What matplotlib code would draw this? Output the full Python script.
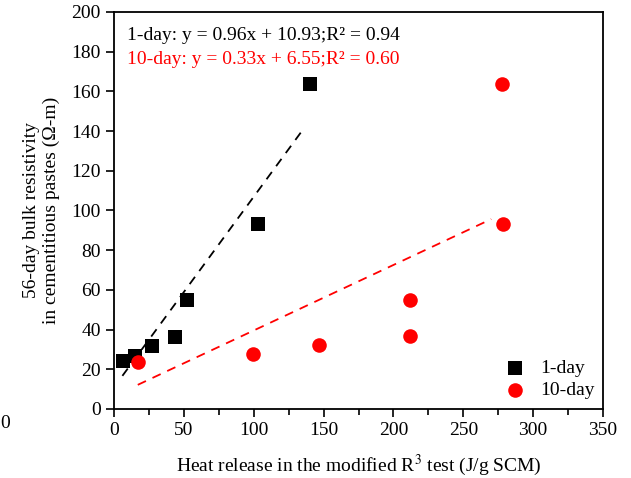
import matplotlib
matplotlib.use("Agg")
import matplotlib.pyplot as plt
import numpy as np
from matplotlib.ticker import MultipleLocator

plt.rcParams['font.family'] = ['Liberation Serif', 'DejaVu Serif']
plt.rcParams['mathtext.fontset'] = 'stix'

# 1-day data
x1 = [6.4, 14.7, 27.4, 43.4, 52, 103, 140]
y1 = [24.2, 26.9, 31.9, 36.4, 54.9, 93.2, 163.7]
# 10-day data
x10 = [17.2, 99.5, 146.7, 211.9, 211.9, 278, 278.5]
y10 = [23.7, 27.9, 32.2, 54.9, 36.8, 163.7, 93.2]

# fit parameters
m1, b1 = 0.96, 10.93
m10, b10 = 0.33, 6.55
fit1_range = [6, 134]
fit10_range = [17, 270]

fig = plt.figure(figsize=(6.31, 4.78), dpi=100)
ax = fig.add_axes([0.1807, 0.1444, 0.7749, 0.8305])

ax.scatter(x1, y1, marker='s', s=95, color='black', label='1-day', zorder=3, linewidths=0)
ax.scatter(x10, y10, marker='o', s=110, color='#ff0000', label='10-day', zorder=3, linewidths=0)

xf1 = np.array(fit1_range)
ax.plot(xf1, m1 * xf1 + b1, linestyle=(0, (5, 4)), color='black', lw=1.3)
xf10 = np.array(fit10_range)
ax.plot(xf10, m10 * xf10 + b10, linestyle=(0, (5, 4)), color='#ff0000', lw=1.3)

ax.set_xlim(0, 350)
ax.set_ylim(0, 200)
ax.xaxis.set_major_locator(MultipleLocator(50))
ax.xaxis.set_minor_locator(MultipleLocator(25))
ax.yaxis.set_major_locator(MultipleLocator(20))
ax.tick_params(axis='both', which='major', direction='out', length=6, width=1.2, labelsize=14)
ax.tick_params(axis='both', which='minor', direction='out', length=4, width=1.2)
for s in ax.spines.values():
    s.set_linewidth(1.3)

ax.set_xlabel('Heat release in the modified R$^3$ test (J/g SCM)', fontsize=14, labelpad=10)
ax.set_ylabel('56-day bulk resistivity\nin cementitious pastes (Ω-m)', fontsize=14, labelpad=8)

ax.text(0.027, 0.94, '1-day: y = 0.96x + 10.93;R² = 0.94', transform=ax.transAxes,
        fontsize=14, color='black', va='center')
ax.text(0.027, 0.88, '10-day: y = 0.33x + 6.55;R² = 0.60', transform=ax.transAxes,
        fontsize=14, color='#ff0000', va='center')

ax.legend(loc='lower right', frameon=False, fontsize=14, handletextpad=0.3,
          borderaxespad=0.0, labelspacing=0.25, bbox_to_anchor=(1.0, 0.005))

fig.text(0.0, 1 - 423 / 478, '0', fontsize=14, va='center', ha='left')

fig.savefig('out.png', dpi=100)
